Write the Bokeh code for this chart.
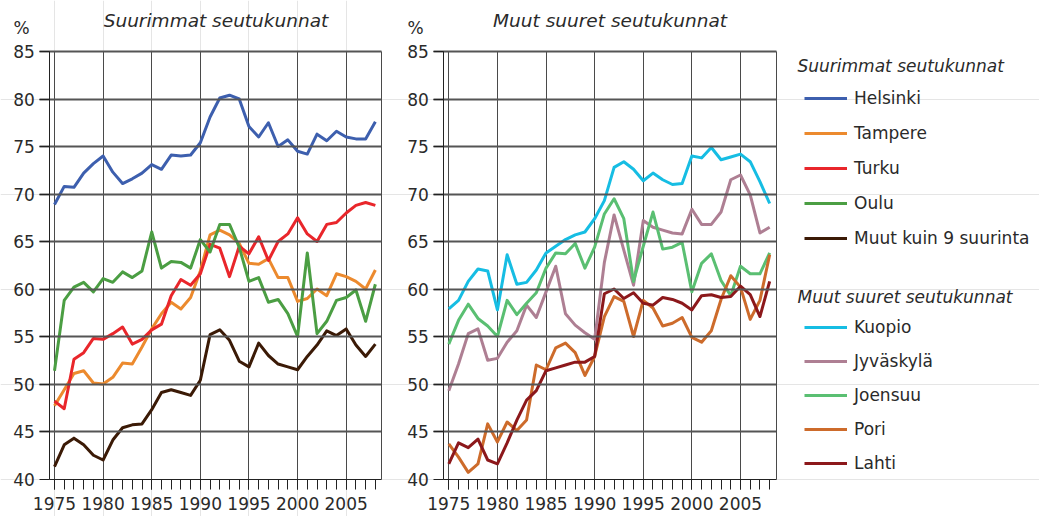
from bokeh.plotting import figure
from bokeh.models import (Range1d, FixedTicker, Legend, LegendItem, Label, LinearAxis, Grid)
from bokeh.embed import file_html
from bokeh.resources import INLINE

years = list(range(1975, 2009))

# Suurimmat seutukunnat
helsinki = [68.9, 70.8, 70.7, 72.2, 73.2, 74.0, 72.3, 71.1, 71.6, 72.2, 73.1, 72.6, 74.1, 74.0, 74.1, 75.4,
            78.1, 80.1, 80.4, 80.0, 77.1, 76.0, 77.5, 75.0, 75.7, 74.5, 74.2, 76.3, 75.6, 76.6, 76.0, 75.8, 75.8, 77.6]
tampere = [47.7, 49.4, 51.1, 51.4, 50.1, 50.0, 50.7, 52.2, 52.1, 53.9, 55.8, 57.4, 58.6, 57.9, 59.1, 61.9,
           65.7, 66.2, 65.7, 64.8, 62.7, 62.6, 63.2, 61.2, 61.2, 58.7, 59.0, 60.0, 59.3, 61.6, 61.3, 60.8, 60.0, 62.0]
turku = [48.2, 47.4, 52.6, 53.3, 54.8, 54.7, 55.3, 56.0, 54.2, 54.7, 55.7, 56.3, 59.3, 61.0, 60.4, 61.6,
         64.7, 64.3, 61.3, 64.5, 63.7, 65.5, 63.0, 65.0, 65.8, 67.5, 65.8, 65.0, 66.8, 67.0, 68.0, 68.8, 69.1, 68.8]
oulu = [51.4, 58.8, 60.2, 60.7, 59.7, 61.1, 60.7, 61.8, 61.2, 61.9, 66.0, 62.2, 62.9, 62.8, 62.2, 65.2,
        63.9, 66.8, 66.8, 64.4, 60.8, 61.2, 58.6, 58.9, 57.4, 55.0, 63.8, 55.3, 56.6, 58.8, 59.1, 59.9, 56.6, 60.5]
muut9 = [41.3, 43.6, 44.3, 43.6, 42.5, 42.0, 44.1, 45.4, 45.7, 45.8, 47.3, 49.1, 49.4, 49.1, 48.8, 50.4,
         55.2, 55.7, 54.6, 52.4, 51.8, 54.3, 53.0, 52.1, 51.8, 51.5, 52.9, 54.1, 55.6, 55.1, 55.8, 54.1, 52.9, 54.2]

# Muut suuret seutukunnat
kuopio = [57.9, 58.8, 60.8, 62.1, 61.9, 57.8, 63.6, 60.5, 60.7, 62.0, 63.8, 64.5, 65.2, 65.7, 66.0, 67.4,
          69.3, 72.8, 73.4, 72.6, 71.4, 72.2, 71.5, 71.0, 71.1, 74.0, 73.8, 74.9, 73.6, 73.9, 74.2, 73.4, 71.3, 69.0]
jyvaskyla = [49.3, 52.1, 55.3, 55.8, 52.5, 52.7, 54.4, 55.6, 58.3, 57.0, 59.7, 62.4, 57.4, 56.2, 55.4, 54.7,
             62.8, 67.8, 64.1, 60.4, 67.2, 66.5, 66.2, 65.9, 65.8, 68.4, 66.8, 66.8, 68.1, 71.5, 72.0, 69.9, 65.9, 66.5]
joensuu = [54.2, 56.7, 58.4, 56.9, 56.1, 55.0, 58.8, 57.3, 58.5, 59.6, 62.2, 63.8, 63.7, 64.8, 62.2, 64.4,
           67.9, 69.5, 67.4, 60.8, 64.5, 68.1, 64.2, 64.4, 64.9, 59.7, 62.7, 63.7, 60.9, 59.3, 62.4, 61.6, 61.6, 63.8]
pori = [43.7, 42.3, 40.7, 41.6, 45.8, 43.9, 46.0, 45.1, 46.2, 52.0, 51.5, 53.8, 54.3, 53.3, 50.9, 52.9,
        57.1, 59.2, 58.7, 55.0, 58.8, 58.0, 56.1, 56.4, 57.0, 54.9, 54.4, 55.6, 58.9, 61.4, 60.2, 56.8, 58.8, 63.6]
lahti = [41.6, 43.8, 43.3, 44.2, 42.0, 41.6, 43.8, 46.2, 48.3, 49.3, 51.4, 51.7, 52.0, 52.3, 52.3, 52.9,
         59.5, 60.0, 59.0, 59.6, 58.5, 58.3, 59.1, 58.9, 58.5, 57.8, 59.3, 59.4, 59.1, 59.2, 60.3, 59.4, 57.1, 60.8]

group1_title = "Suurimmat seutukunnat"
group2_title = "Muut suuret seutukunnat"
group1 = [("Helsinki", helsinki, "#3d5fae"), ("Tampere", tampere, "#ec8a2e"), ("Turku", turku, "#e9262b"),
          ("Oulu", oulu, "#4b9e43"), ("Muut kuin 9 suurinta", muut9, "#3b1a06")]
group2 = [("Kuopio", kuopio, "#16bde3"), ("Jyväskylä", jyvaskyla, "#ae7f93"), ("Joensuu", joensuu, "#5abf72"),
          ("Pori", pori, "#cd6b2b"), ("Lahti", lahti, "#8c181b")]
y_ticks = list(range(40, 90, 5))
x_major = [1975, 1980, 1985, 1990, 1995, 2000, 2005]
y_min, y_max = 40, 85

# ---- layout (pixels) ----
W, H = 1039, 516
Y_TOP, Y_BOT = 51.0, 478.5          # pixel rows of y=85 and y=40
PX_YEAR = 9.723                      # pixels per year
PANEL_X1975 = {"p1": 54.0, "p2": 448.3}
PANEL_X_EDGES = {"p1": (49.3, 381.0), "p2": (443.3, 775.7)}
TICK = 10
TXT_SHIFT = 7                        # label baseline correction

FONT = "DejaVu Sans"
TXT = "#2a2a2a"
GRID = "#4a4a4a"
HGRID = "#555555"
AX = "#222222"

ppu = (Y_BOT - Y_TOP) / (y_max - y_min)
yr = Range1d(y_min - (H - Y_BOT) / ppu, y_max + Y_TOP / ppu)


def xr_for(key):
    s = 1975 - PANEL_X1975[key] / PX_YEAR
    return Range1d(s, s + W / PX_YEAR)


def px_to_year(key, px):
    return 1975 + (px - PANEL_X1975[key]) / PX_YEAR


p = figure(width=W, height=H, x_range=xr_for("p1"), y_range=yr, output_backend="svg",
           toolbar_location=None, x_axis_location=None, y_axis_location=None, min_border=0)
p.extra_x_ranges = {"p2": xr_for("p2")}
p.outline_line_color = None
p.background_fill_color = "white"
p.border_fill_color = "white"


def style_axis(ax):
    ax.axis_line_color = AX
    ax.major_tick_line_color = AX
    ax.minor_tick_line_color = AX
    ax.major_tick_in = 0
    ax.major_tick_out = TICK
    ax.minor_tick_in = 0
    ax.major_label_text_font = FONT
    ax.major_label_text_font_size = "17px"
    ax.major_label_text_color = TXT


def rule_axis(rname, loc, bounds, color, width):
    # a bare axis line (no ticks, no labels) used as a grid/border rule
    return LinearAxis(x_range_name=rname, fixed_location=loc, bounds=bounds,
                      ticker=FixedTicker(ticks=[]), axis_line_color=color, axis_line_width=width,
                      major_label_text_alpha=0, major_tick_line_color=None, minor_tick_line_color=None)


renderers = {}
for key, group in (("p1", group1), ("p2", group2)):
    rname = "default" if key == "p1" else key
    x0 = px_to_year(key, PANEL_X_EDGES[key][0])
    x1 = px_to_year(key, PANEL_X_EDGES[key][1])
    x_tick_end = px_to_year(key, PANEL_X_EDGES[key][0] - TICK)

    # vertical grid
    xg = Grid(dimension=0, ticker=FixedTicker(ticks=x_major), x_range_name=rname,
              grid_line_color=GRID, grid_line_width=1)
    try:
        xg.cross_bounds = (y_min, y_max)
    except AttributeError:
        pass
    xg.bounds = (x0, x1)
    p.add_layout(xg)

    # horizontal rules at the y ticks above the x axis
    for yv in y_ticks[1:]:
        p.add_layout(rule_axis(rname, yv, (x_tick_end, x1), HGRID, 2), "below")

    rs = []
    for name, vals, col in group:
        r = p.line(years, vals, line_color=col, line_width=3, line_join="round", x_range_name=rname)
        rs.append((name, r))
    renderers[key] = rs

    ya = LinearAxis(x_range_name=rname, fixed_location=x0, bounds=(y_min, y_max),
                    ticker=FixedTicker(ticks=y_ticks))
    style_axis(ya)
    ya.minor_tick_out = 0
    ya.major_label_standoff = 5
    p.add_layout(ya, "left")

    xa = LinearAxis(x_range_name=rname, fixed_location=y_min, bounds=(x0, x1),
                    ticker=FixedTicker(ticks=x_major, minor_ticks=years))
    style_axis(xa)
    xa.minor_tick_out = TICK
    xa.major_label_standoff = 8
    p.add_layout(xa, "below")

    p.add_layout(rule_axis(rname, x1, (y_min, y_max), GRID, 1), "right")

# texts
title_specs = [(group1_title, 215.5, 27), (group2_title, 609.6, 27)]
for txt, cx, base in title_specs:
    p.add_layout(Label(x=cx, y=H - base + TXT_SHIFT, x_units="screen", y_units="screen", text=txt,
                       text_font=FONT, text_font_size="18.5px", text_font_style="italic",
                       text_color=TXT, text_align="center", text_baseline="alphabetic"))
for px in (13, 407):
    p.add_layout(Label(x=px, y=H - 34 + TXT_SHIFT, x_units="screen", y_units="screen", text="%",
                       text_font=FONT, text_font_size="17px", text_color=TXT, text_baseline="alphabetic"))
for txt, base in ((group1_title, 72), (group2_title, 303)):
    p.add_layout(Label(x=797, y=H - base + TXT_SHIFT, x_units="screen", y_units="screen", text=txt,
                       text_font=FONT, text_font_size="17px", text_font_style="italic",
                       text_color=TXT, text_baseline="alphabetic"))

# legends
for key, bottom_px, spacing in (("p1", 248, 15), ("p2", 473, 14)):
    items = [LegendItem(label=name, renderers=[r]) for name, r in renderers[key]]
    lg = Legend(items=items, location=(804, H - bottom_px), orientation="vertical", glyph_width=43,
                glyph_height=20, label_height=20, label_standoff=7, spacing=spacing, padding=0, margin=0,
                border_line_color=None, background_fill_alpha=0, label_text_font=FONT,
                label_text_font_size="17px", label_text_color=TXT)
    p.add_layout(lg)

open("out.html", "w").write(file_html(p, INLINE))
